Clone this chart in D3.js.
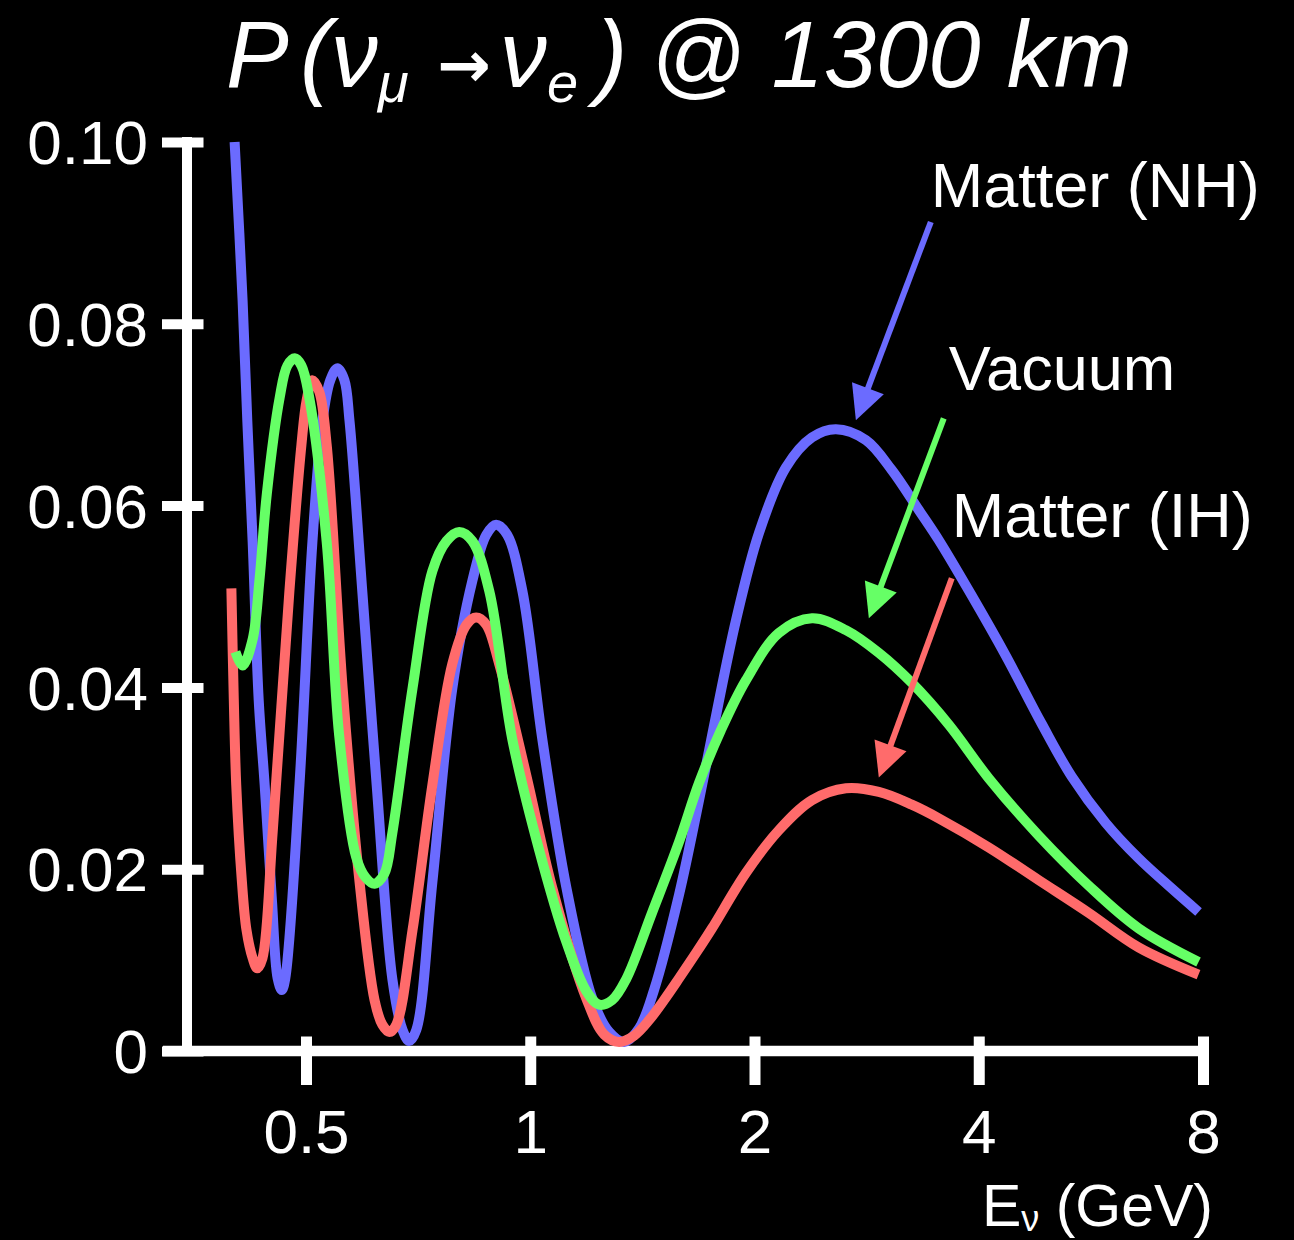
<!DOCTYPE html>
<html>
<head>
<meta charset="utf-8">
<script src="https://cdn.jsdelivr.net/npm/d3@7/dist/d3.min.js"></script>
<style>
html, body { margin: 0; padding: 0; background: #000; }
svg { display: block; }
text { font-family: "Liberation Sans", Arial, Helvetica, sans-serif; fill: #fff; }
</style>
</head>
<body>
<svg id="svg" width="1294" height="1240"></svg>
<script>
const xTicks = [0.5, 1, 2, 4, 8];
const xTickLabels = ["0.5", "1", "2", "4", "8"];
const yTicks = [0, 0.02, 0.04, 0.06, 0.08, 0.10];
const yTickLabels = ["0", "0.02", "0.04", "0.06", "0.08", "0.10"];

const seriesNames = ["Matter (NH)", "Matter (IH)", "Vacuum"];
const seriesColors = ["#6b6bff", "#ff6b6b", "#66ff66"];

// Matter, normal hierarchy
const nhE = [0.401, 0.411, 0.417, 0.424, 0.432, 0.440, 0.450, 0.458, 0.464, 0.469, 0.490, 0.510, 0.526, 0.539, 0.551, 0.563, 0.572, 0.595, 0.622, 0.653, 0.674, 0.688, 0.703, 0.739, 0.786, 0.836, 0.873, 0.900, 0.931, 0.976, 1.038, 1.118, 1.211, 1.276, 1.337, 1.400, 1.466, 1.584, 1.685, 1.749, 1.889, 2.028, 2.204, 2.389, 2.572, 2.822, 3.058, 3.324, 3.535, 3.914, 4.348, 4.859, 5.331, 5.921, 6.556, 7.259, 7.890];
const nhP = [0.1000, 0.0826, 0.0694, 0.0560, 0.0386, 0.0293, 0.0166, 0.0080, 0.0067, 0.0080, 0.0293, 0.0560, 0.0693, 0.0738, 0.0751, 0.0738, 0.0693, 0.0506, 0.0293, 0.0079, 0.0023, 0.0011, 0.0023, 0.0186, 0.0399, 0.0517, 0.0568, 0.0579, 0.0568, 0.0506, 0.0343, 0.0180, 0.0058, 0.0021, 0.0010, 0.0025, 0.0067, 0.0172, 0.0276, 0.0342, 0.0474, 0.0570, 0.0642, 0.0675, 0.0684, 0.0672, 0.0639, 0.0595, 0.0562, 0.0501, 0.0435, 0.0360, 0.0302, 0.0251, 0.0212, 0.0179, 0.0153];

// Matter, inverted hierarchy
const ihE = [0.397, 0.400, 0.403, 0.410, 0.416, 0.424, 0.430, 0.437, 0.451, 0.475, 0.493, 0.501, 0.510, 0.521, 0.533, 0.560, 0.590, 0.618, 0.633, 0.647, 0.661, 0.695, 0.739, 0.786, 0.821, 0.846, 0.873, 0.909, 0.988, 1.070, 1.189, 1.257, 1.316, 1.379, 1.444, 1.512, 1.584, 1.670, 1.754, 1.948, 2.157, 2.389, 2.653, 2.937, 3.252, 3.535, 4.126, 4.814, 5.618, 6.556, 7.890];
const ihP = [0.0509, 0.0386, 0.0293, 0.0188, 0.0133, 0.0102, 0.0091, 0.0102, 0.0240, 0.0506, 0.0667, 0.0716, 0.0738, 0.0725, 0.0667, 0.0399, 0.0186, 0.0056, 0.0029, 0.0021, 0.0029, 0.0133, 0.0293, 0.0426, 0.0469, 0.0477, 0.0469, 0.0425, 0.0303, 0.0180, 0.0058, 0.0018, 0.0010, 0.0017, 0.0034, 0.0056, 0.0080, 0.0108, 0.0135, 0.0196, 0.0243, 0.0276, 0.0289, 0.0285, 0.0271, 0.0256, 0.0224, 0.0188, 0.0152, 0.0114, 0.0084];

// Vacuum
const vacE = [0.402, 0.411, 0.424, 0.433, 0.443, 0.461, 0.472, 0.483, 0.493, 0.505, 0.533, 0.554, 0.584, 0.601, 0.618, 0.637, 0.653, 0.695, 0.739, 0.772, 0.803, 0.836, 0.881, 0.946, 1.028, 1.118, 1.189, 1.237, 1.288, 1.345, 1.457, 1.584, 1.685, 1.803, 1.948, 2.157, 2.389, 2.653, 2.937, 3.252, 3.646, 4.126, 4.814, 5.618, 6.556, 7.890];
const vacP = [0.0439, 0.0424, 0.0453, 0.0518, 0.0613, 0.0719, 0.0754, 0.0762, 0.0754, 0.0719, 0.0560, 0.0347, 0.0213, 0.0191, 0.0184, 0.0195, 0.0240, 0.0399, 0.0528, 0.0561, 0.0571, 0.0561, 0.0506, 0.0343, 0.0221, 0.0120, 0.0066, 0.0051, 0.0056, 0.0079, 0.0152, 0.0230, 0.0295, 0.0353, 0.0408, 0.0460, 0.0476, 0.0463, 0.0438, 0.0405, 0.0359, 0.0300, 0.0237, 0.0182, 0.0135, 0.0098];

// label anchors and arrows, in data units (NH, IH, Vacuum)
const labelE = [3.449, 3.680, 3.646];
const labelP = [0.0928, 0.0565, 0.0727];
const arrowFromE = [3.449, 3.680, 3.590];
const arrowFromP = [0.0912, 0.0520, 0.0696];
const arrowToE = [2.736, 2.937, 2.848];
const arrowToP = [0.0694, 0.0301, 0.0476];

const series = [
  d3.zip(nhE, nhP),
  d3.zip(ihE, ihP),
  d3.zip(vacE, vacP)
];

const svg = d3.select('#svg');
svg.append('rect').attr('width', 1294).attr('height', 1240).attr('fill', '#000');

const x = d3.scaleLog().base(2).domain([0.5, 8]).range([306, 1203]);
const y = d3.scaleLinear().domain([0, 0.1]).range([1051, 142]);
const axisX = 187;

// title
const title = svg.append('text')
  .attr('x', 226).attr('y', 87)
  .attr('font-size', 94).attr('font-style', 'italic');
title.append('tspan').text('P');
title.append('tspan').attr('x', 300).text('(');
title.append('tspan').attr('x', 331).text('ν');
title.append('tspan').attr('font-size', 56).attr('dy', 15).text('μ');
title.append('tspan').attr('x', 437).attr('dy', -15)
  .attr('font-family', '"DejaVu Sans", sans-serif').attr('font-style', 'normal')
  .attr('font-weight', 'bold').attr('font-size', 64).text('→');
title.append('tspan').attr('x', 500).text('ν');
title.append('tspan').attr('font-size', 56).attr('dy', 15).text('e');
title.append('tspan').attr('x', 596).attr('dy', -15).text(')');
title.append('tspan').attr('x', 650).text('@ 1300 km');

// y axis
svg.append('g')
  .attr('transform', `translate(${axisX},0)`)
  .call(d3.axisLeft(y).tickValues(yTicks).tickFormat((d, i) => yTickLabels[i]).tickSize(25).tickPadding(14))
  .call(g => g.select('.domain').remove())
  .call(g => g.selectAll('.tick line').attr('x1', 16.5).attr('stroke', '#fff').attr('stroke-width', 10))
  .call(g => g.selectAll('.tick text').attr('font-size', 62).attr('dy', '0.35em')
    .attr('font-family', '"Liberation Sans", Arial, sans-serif').attr('fill', '#fff'));

svg.append('line')
  .attr('x1', axisX).attr('x2', axisX)
  .attr('y1', y(0.1) - 5).attr('y2', y(0))
  .attr('stroke', '#fff').attr('stroke-width', 10);

// x axis
svg.append('g')
  .attr('transform', `translate(0,${y(0)})`)
  .call(d3.axisBottom(x).tickValues(xTicks).tickFormat((d, i) => xTickLabels[i]).tickSize(34).tickPadding(24))
  .call(g => g.select('.domain').remove())
  .call(g => g.selectAll('.tick line').attr('y1', -14.5).attr('stroke', '#fff').attr('stroke-width', 11))
  .call(g => g.selectAll('.tick text').attr('font-size', 62)
    .attr('font-family', '"Liberation Sans", Arial, sans-serif').attr('fill', '#fff'));

svg.append('line')
  .attr('x1', axisX - 24).attr('x2', x(8) + 5)
  .attr('y1', y(0)).attr('y2', y(0))
  .attr('stroke', '#fff').attr('stroke-width', 10.5);

const xTitle = svg.append('text')
  .attr('x', 1213).attr('y', 1226)
  .attr('text-anchor', 'end').attr('font-size', 59);
xTitle.append('tspan').text('E');
xTitle.append('tspan').attr('font-size', 36).attr('dy', 5).text('ν');
xTitle.append('tspan').attr('dy', -5).text(' (GeV)');

// curves
const line = d3.line()
  .x(d => x(d[0]))
  .y(d => y(d[1]))
  .curve(d3.curveCatmullRom.alpha(0.5));

svg.append('g')
  .selectAll('path')
  .data(series)
  .enter()
  .append('path')
  .attr('d', line)
  .attr('fill', 'none')
  .attr('stroke', (d, i) => seriesColors[i])
  .attr('stroke-width', 10)
  .attr('stroke-linejoin', 'round');

// labels and arrows
const notes = svg.append('g')
  .selectAll('g')
  .data(seriesNames)
  .enter()
  .append('g');

notes.append('text')
  .attr('x', (d, i) => x(labelE[i]))
  .attr('y', (d, i) => y(labelP[i]))
  .attr('font-size', 63)
  .text(d => d);

const headLen = 34, headHalf = 17;
notes.each(function (d, i) {
  const g = d3.select(this);
  const x0 = x(arrowFromE[i]), y0 = y(arrowFromP[i]);
  const x1 = x(arrowToE[i]), y1 = y(arrowToP[i]);
  const len = Math.hypot(x1 - x0, y1 - y0);
  const ux = (x1 - x0) / len, uy = (y1 - y0) / len;
  const bx = x1 - ux * headLen, by = y1 - uy * headLen;
  g.append('line')
    .attr('x1', x0).attr('y1', y0)
    .attr('x2', bx + ux * 2).attr('y2', by + uy * 2)
    .attr('stroke', seriesColors[i]).attr('stroke-width', 6);
  g.append('path')
    .attr('d', `M${x1},${y1}L${bx - uy * headHalf},${by + ux * headHalf}L${bx + uy * headHalf},${by - ux * headHalf}Z`)
    .attr('fill', seriesColors[i]);
});
</script>
</body>
</html>
